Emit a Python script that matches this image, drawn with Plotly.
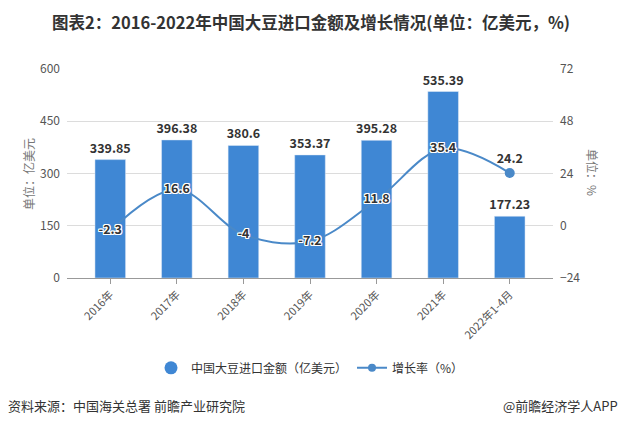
import plotly.graph_objects as go

categories = ["2016年", "2017年", "2018年", "2019年", "2020年", "2021年", "2022年1-4月"]
import_value = [339.85, 396.38, 380.6, 353.37, 395.28, 535.39, 177.23]
growth_rate = [-2.3, 16.6, -4, -7.2, 11.8, 35.4, 24.2]
left_ticks = [0, 150, 300, 450, 600]
right_ticks = [-24, 0, 24, 48, 72]

BAR = "#3f87d4"
LINE = "#4a89c8"
FONT = "Noto Sans CJK SC"

fig = go.Figure()
x = list(range(len(categories)))
fig.add_trace(go.Bar(
    x=x, y=import_value, marker_color=BAR, width=0.46,
    text=[f"{v:g}" for v in import_value], textposition="outside", constraintext="none",
    textfont=dict(size=12.5, color="#333", family=FONT, weight="bold"),
    cliponaxis=False, showlegend=False, yaxis="y",
))
shadow = "1px 1px 0 #fff, -1px -1px 0 #fff, 1px -1px 0 #fff, -1px 1px 0 #fff, 0 1px 0 #fff, 0 -1px 0 #fff, 1px 0 0 #fff, -1px 0 0 #fff"
positions = ["middle center"] * (len(growth_rate) - 1) + ["top center"]
fig.add_trace(go.Scatter(
    x=x, y=growth_rate, mode="lines+markers+text", yaxis="y2",
    line=dict(color=LINE, width=2, shape="spline", smoothing=1.0),
    marker=dict(color=LINE, size=10),
    text=[f"{v:g}" for v in growth_rate], textposition=positions,
    textfont=dict(size=12.5, color="#333", family=FONT, weight="bold", shadow=shadow),
    cliponaxis=False, showlegend=False,
))
# legend entries
fig.add_trace(go.Scatter(x=[None], y=[None], mode="markers", name="中国大豆进口金额（亿美元）",
                         marker=dict(color=BAR, size=13, symbol="circle")))
fig.add_trace(go.Scatter(x=[None], y=[None], mode="lines+markers", name="增长率（%）",
                         line=dict(color=LINE, width=2), marker=dict(color=LINE, size=8)))

fig.update_layout(
    width=622, height=425, paper_bgcolor="white", plot_bgcolor="white",
    margin=dict(l=67, r=69, t=69, b=147),
    font=dict(family=FONT, color="#555", size=12),
    bargap=0.5,
    xaxis=dict(tickmode="array", tickvals=x, ticktext=categories, range=[-0.65, 6.65],
               tickangle=-45, ticks="outside", ticklen=5, tickcolor="#999",
               showline=True, linecolor="#999", showgrid=False,
               tickfont=dict(size=11, color="#555")),
    yaxis=dict(range=[0, 600], tickvals=left_ticks, showgrid=True, gridcolor="#dcdcdc",
               zeroline=False, tickfont=dict(size=12, color="#555"), ticklabelstandoff=6),
    yaxis2=dict(range=[-24, 72], tickvals=right_ticks, overlaying="y", side="right",
                showgrid=False, zeroline=False, tickfont=dict(size=12, color="#555"),
                ticklabelstandoff=6),
    legend=dict(orientation="h", x=0.5, xanchor="center", y=-0.43, yanchor="middle",
                font=dict(size=12, color="#333"), itemwidth=30, bgcolor="rgba(0,0,0,0)"),
    showlegend=True,
)

fig.add_annotation(text="<b>图表2：2016-2022年中国大豆进口金额及增长情况(单位：亿美元，%)</b>",
                   xref="paper", yref="paper", x=(311-67)/486, y=(425-22-147)/209, xanchor="center",
                   yanchor="middle", showarrow=False, font=dict(size=16.5, color="#333"))
fig.add_annotation(text="单位：亿美元", xref="paper", yref="paper", x=(28-67)/486, y=(278-174)/209,
                   xanchor="center", yanchor="middle",
                   textangle=-90, showarrow=False, font=dict(size=12, color="#777"))
fig.add_annotation(text="单位：%", xref="paper", yref="paper", x=(593-67)/486, y=(278-172)/209,
                   xanchor="center", yanchor="middle",
                   textangle=90, showarrow=False, font=dict(size=12, color="#777"))
fig.add_annotation(text="资料来源：中国海关总署 前瞻产业研究院", xref="paper", yref="paper",
                   x=(6-67)/486, y=(278-405)/209, xanchor="left", yanchor="middle",
                   showarrow=False, font=dict(size=13, color="#333"))
fig.add_annotation(text="@前瞻经济学人APP", xref="paper", yref="paper",
                   x=(620-67)/486, y=(278-405)/209, xanchor="right", yanchor="middle",
                   showarrow=False, font=dict(size=13, color="#333"))

fig.write_html("out.html")
